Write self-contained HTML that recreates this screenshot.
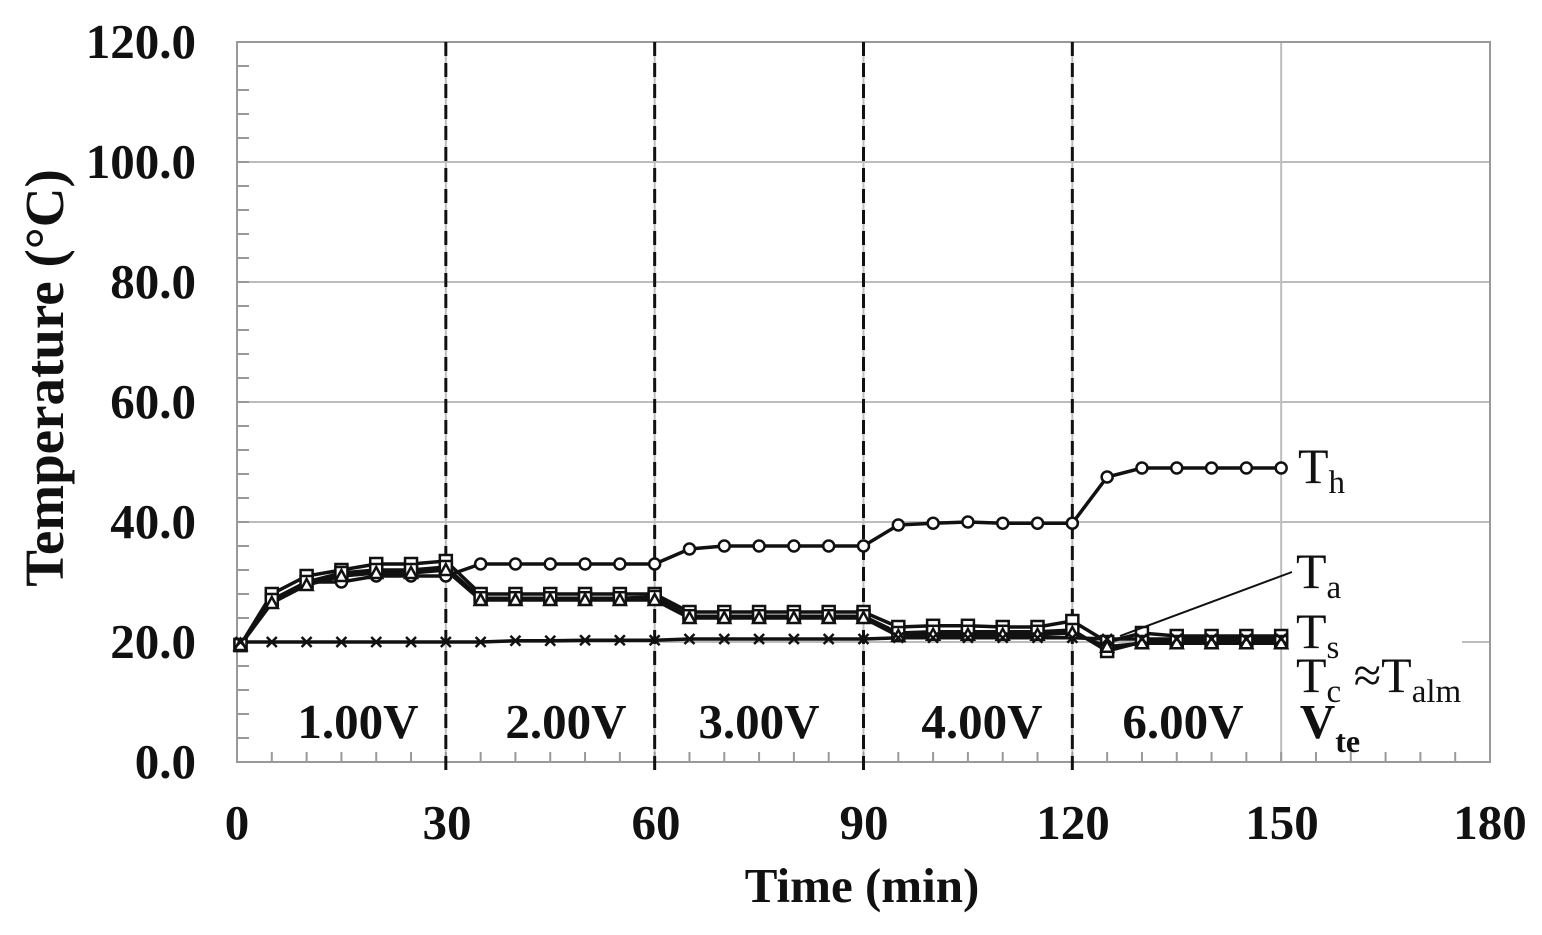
<!DOCTYPE html>
<html><head><meta charset="utf-8"><style>
body{margin:0;background:#fff}
svg{display:block}
text{font-family:"Liberation Serif",serif;fill:#111}
</style></head><body>
<svg id="s" width="1542" height="935" viewBox="0 0 1542 935">
<g id="grid" stroke="#bdbdbd" stroke-width="2" fill="none"></g>
<rect x="237" y="42" width="1253" height="720" fill="none" stroke="#999" stroke-width="2"/>
<g id="ticks" stroke="#999" stroke-width="2"></g>
<g id="dash" stroke="#111" stroke-width="3" stroke-dasharray="14,7"></g>
<g id="series" fill="none" stroke="#111" stroke-width="3.5"></g>
<g id="marks" fill="#fff" stroke="#111" stroke-width="2.5"></g>
<g font-weight="bold" font-size="49" text-anchor="end">
<text x="196" y="58">120.0</text><text x="196" y="178">100.0</text><text x="196" y="298">80.0</text>
<text x="196" y="418">60.0</text><text x="196" y="538">40.0</text><text x="196" y="658">20.0</text><text x="196" y="778">0.0</text>
</g>
<g font-weight="bold" font-size="49" text-anchor="middle">
<text x="237" y="839">0</text><text x="447" y="839">30</text><text x="656" y="839">60</text><text x="864" y="839">90</text>
<text x="1073" y="839">120</text><text x="1282" y="839">150</text><text x="1490" y="839">180</text>
<text x="862" y="902">Time (min)</text>
<text transform="translate(63,378) rotate(-90)" font-size="55">Temperature (°C)</text>
<text x="358" y="738">1.00V</text><text x="566" y="738">2.00V</text><text x="759" y="738">3.00V</text>
<text x="982" y="738">4.00V</text><text x="1183" y="738">6.00V</text>
<text x="1330" y="738">V<tspan font-size="32" dy="14">te</tspan></text>
</g>
<g font-size="50">
<text x="1298" y="483">T<tspan font-size="33" dy="10">h</tspan></text>
<text x="1296" y="588">T<tspan font-size="33" dy="10">a</tspan></text>
<text x="1296" y="648">T<tspan font-size="33" dy="10">s</tspan></text>
<text x="1296" y="692">T<tspan font-size="33" dy="10">c</tspan><tspan dy="-10"> ≈T</tspan><tspan font-size="33" dy="10">alm</tspan></text>
</g>
<line x1="1120" y1="636" x2="1292" y2="572" stroke="#111" stroke-width="2"/>
</svg>
<script>
var NS="http://www.w3.org/2000/svg";
function X(t){return 237+t*1253/180}function Y(v){return 762-v*6}
function el(p,n,a){var e=document.createElementNS(NS,n);for(var k in a)e.setAttribute(k,a[k]);document.getElementById(p).appendChild(e);return e}
for(var v=20;v<=100;v+=20){ if(v==20){el("grid","line",{x1:237,x2:1282,y1:Y(v),y2:Y(v)});el("grid","line",{x1:1462,x2:1490,y1:Y(v),y2:Y(v)});} else el("grid","line",{x1:237,x2:1490,y1:Y(v),y2:Y(v)});}
[30,60,90,120,150].forEach(function(t){el("grid","line",{x1:X(t),x2:X(t),y1:42,y2:762})});
for(var v=4;v<120;v+=4)el("ticks","line",{x1:237,x2:249,y1:Y(v),y2:Y(v)});
for(var t=5;t<180;t+=5)el("ticks","line",{x1:X(t),x2:X(t),y1:762,y2:752});
[30,60,90,120].forEach(function(t){el("dash","line",{x1:X(t),x2:X(t),y1:42,y2:770})});
var T=[];for(var i=0;i<=30;i++)T.push(i==0?0.5:i*5);
var Th=[19.5,27,30,30,31,31,31,33,33,33,33,33,33,35.5,36,36,36,36,36,39.5,39.8,40,39.8,39.8,39.8,47.5,49,49,49,49,49];
var Ta=[19.5,28,31,32,33,33,33.5,28,28,28,28,28,28,25,25,25,25,25,25,22.5,22.7,22.7,22.5,22.5,23.5,20,21.5,21,21,21,21];
var Ts=[19.5,27,30,31.5,32,32,32.5,27.3,27.3,27.3,27.3,27.3,27.5,24.3,24.3,24.3,24.3,24.3,24.3,21.5,21.7,21.7,21.7,21.7,22,18.5,20,20,20,20,20];
var Tc=[19.5,26.5,29.5,31,31.5,31.5,32,27,27,27,27,27,27,24,24,24,24,24,24,21,21.2,21.2,21.2,21.2,21.5,19.2,19.8,19.8,19.8,19.8,19.8];
var Tl=[20,20,20,20,20,20,20,20,20.2,20.2,20.3,20.3,20.3,20.5,20.5,20.5,20.5,20.5,20.5,20.7,20.7,20.7,20.7,20.7,20.7,20.5,20.5,20.5,20.5,20.5,20.5];
[Th,Ta,Ts,Tc,Tl].forEach(function(d){el("series","polyline",{points:d.map(function(v,i){return X(T[i])+","+Y(v)}).join(" ")})});
T.forEach(function(t,i){var x=X(t);
 el("marks","circle",{cx:x,cy:Y(Th[i]),r:5.5});
 el("marks","rect",{x:x-6,y:Y(Ta[i])-6,width:12,height:12});
 el("marks","rect",{x:x-6,y:Y(Ts[i])-6,width:12,height:12});
 var y=Y(Tc[i]);el("marks","polygon",{points:(x-6)+","+(y+5)+" "+(x+6)+","+(y+5)+" "+x+","+(y-6)});
 y=Y(Tl[i]);el("marks","path",{d:"M"+(x-5)+","+(y-5)+"L"+(x+5)+","+(y+5)+"M"+(x+5)+","+(y-5)+"L"+(x-5)+","+(y+5)});
});
</script>
</body></html>
